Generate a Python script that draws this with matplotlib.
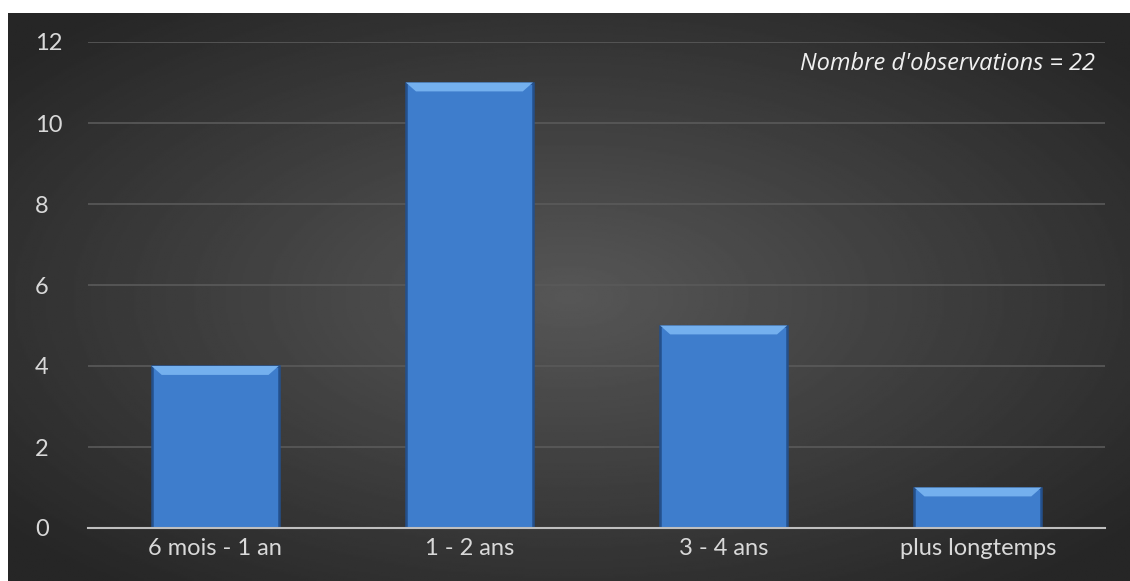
import numpy as np
import matplotlib.pyplot as plt

categories = ['6 mois - 1 an', '1 - 2 ans', '3 - 4 ans', 'plus longtemps']
values = [4, 11, 5, 1]
n_obs = 22

plt.rcParams['font.family'] = ['Lato', 'DejaVu Sans']

fig = plt.figure(figsize=(11.3, 5.81), dpi=100)
fig.patch.set_facecolor('white')

# fond sombre avec dégradé radial
bg = fig.add_axes([8 / 1130, 0, 1 - 8 / 1130, 1 - 13 / 581])
yy, xx = np.mgrid[-1:1:300j, -1:1:600j]
r = np.sqrt(xx ** 2 + yy ** 2)
shade = 0.34 - 0.19 * np.clip(r / 1.3, 0, 1)
bg.imshow(shade, cmap='gray', vmin=0, vmax=1, aspect='auto', extent=[0, 1, 0, 1])
bg.set_axis_off()

ax = fig.add_axes([88 / 1130, 1 - 528 / 581, (1105 - 88) / 1130, (528 - 42) / 581])
ax.set_facecolor('none')
x = np.arange(len(categories))
w = 0.5
bars = ax.bar(x, values, width=w, color='#3e7dcc', edgecolor='#24508c',
              linewidth=1.8, zorder=3)
# biseau clair en haut des barres
bev_h, bev_in = 0.22, 0.04
for xi, v in zip(x, values):
    l, r_ = xi - w / 2, xi + w / 2
    ax.fill([l, r_, r_ - bev_in, l + bev_in], [v, v, v - bev_h, v - bev_h],
            color='#74b0ee', lw=0, zorder=4)

ax.set_xlim(-0.5, len(categories) - 0.5)
ax.set_ylim(0, 12)
ax.set_yticks(range(0, 13, 2))
ax.set_xticks(x)
ax.set_xticklabels(categories)
ax.yaxis.grid(True, color='#5a5a5a', linewidth=1.2, zorder=0)
ax.set_axisbelow(True)
for s in ['top', 'right', 'left']:
    ax.spines[s].set_visible(False)
ax.spines['bottom'].set_color('#bfbfbf')
ax.spines['bottom'].set_linewidth(1.5)
ax.spines['bottom'].set_zorder(5)
ax.tick_params(length=0, colors='#d9d9d9', labelsize=17)
ax.tick_params(axis='y', pad=38)
ax.tick_params(axis='x', pad=7)
for lab in ax.get_yticklabels():
    lab.set_horizontalalignment('left')

ax.text(0.99, 0.955, "Nombre d'observations = %d" % n_obs, transform=ax.transAxes,
        ha='right', va='center', fontsize=17, style='italic', color='#f0f0f0',
        family=['Open Sans', 'DejaVu Sans'])

fig.savefig('out.png', dpi=100)
